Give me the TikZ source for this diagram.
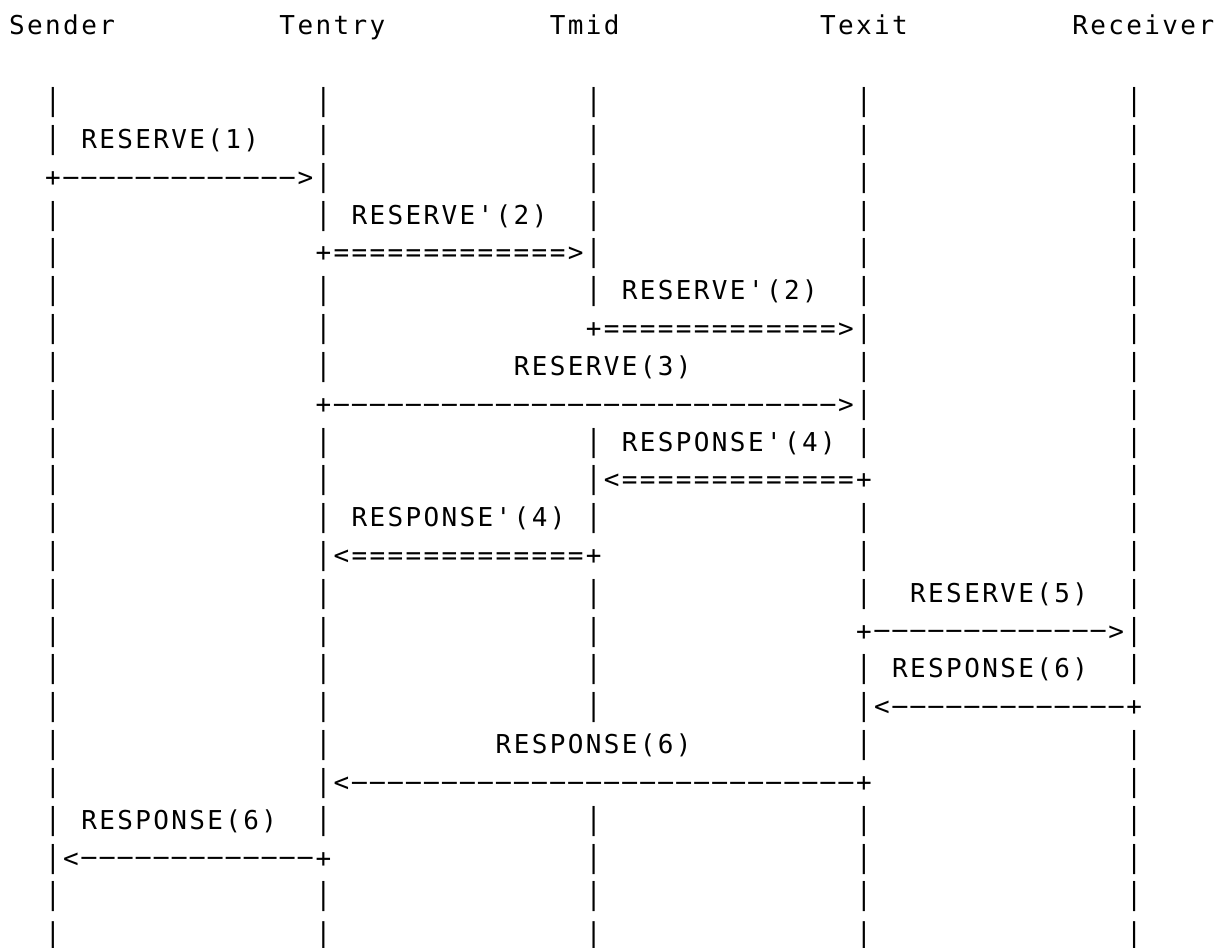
\documentclass[tikz,border=0pt]{standalone}
\usepackage{fontspec}
\usepackage{graphicx}
\setmonofont{DejaVu Sans Mono}
\ExplSyntaxOn
\cs_new_protected:Npn \asc_glyph:n #1
 {
  \str_case:nnF {#1}
   {
    {|} { \scalebox{1}[1.16]{|} }
    {!} { \scalebox{1}[1.05]{|} }
    {-} { \raisebox{1.2pt}{\scalebox{2.25}[1]{-}} }
   }
   {#1}
 }
\NewDocumentCommand \asc { m }
 {
  \str_map_inline:nn {#1}
   { \makebox[18.02pt][c]{\asc_glyph:n {##1}} }
 }
\ExplSyntaxOff
\tikzset{
  asc/.style={anchor=base west, inner sep=0pt, outer sep=0pt,
    font=\ttfamily\fontsize{26}{30}\selectfont, text=black}
}
\newcommand\seg[3]{\node[asc] (s-#1-#2) at ({8+#2*18.02},{35+(#1-1)*37.82}) {\asc{#3}};}
\newcommand\bars[2]{\foreach \cc in {#2}{\seg{#1}{\cc}{|}}}
\begin{document}
\begin{tikzpicture}[x=1pt,y=-1pt]
\useasboundingbox[fill=white] (0,0) rectangle (1222,947);
% header
\seg{1}{0}{Sender}
\seg{1}{15}{Tentry}
\seg{1}{30}{Tmid}
\seg{1}{45}{Texit}
\seg{1}{59}{Receiver}
% rows
\bars{3}{2,17,32,47,62}
\bars{4}{2,17,32,47,62} \seg{4}{4}{RESERVE(1)}
\seg{5}{2}{+------------->|} \bars{5}{32,47,62}
\bars{6}{2,17,32,47,62} \seg{6}{19}{RESERVE'(2)}
\bars{7}{2,47,62} \seg{7}{17}{+=============>|}
\bars{8}{2,17,32,47,62} \seg{8}{34}{RESERVE'(2)}
\bars{9}{2,17,62} \seg{9}{32}{+=============>|}
\bars{10}{2,17,47,62} \seg{10}{28}{RESERVE(3)}
\bars{11}{2,62} \seg{11}{17}{+---------------------------->|}
\bars{12}{2,17,32,47,62} \seg{12}{34}{RESPONSE'(4)}
\bars{13}{2,17,62} \seg{13}{32}{|<=============+}
\bars{14}{2,17,32,47,62} \seg{14}{19}{RESPONSE'(4)}
\bars{15}{2,47,62} \seg{15}{17}{|<=============+}
\bars{16}{2,17,32,47,62} \seg{16}{50}{RESERVE(5)}
\bars{17}{2,17,32} \seg{17}{47}{+------------->|}
\bars{18}{2,17,32,47,62} \seg{18}{49}{RESPONSE(6)}
\bars{19}{2,17,32} \seg{19}{47}{|<-------------+}
\bars{20}{2,17,47,62} \seg{20}{27}{RESPONSE(6)}
\bars{21}{2,62} \seg{21}{17}{|<----------------------------+}
\bars{22}{2,17,32,47,62} \seg{22}{4}{RESPONSE(6)}
\seg{23}{2}{|<-------------+} \bars{23}{32,47,62}
\bars{24}{2,17,32,47,62}
\foreach \cc in {2,17,32,47,62}{\seg{25}{\cc}{!}}
\end{tikzpicture}
\end{document}
